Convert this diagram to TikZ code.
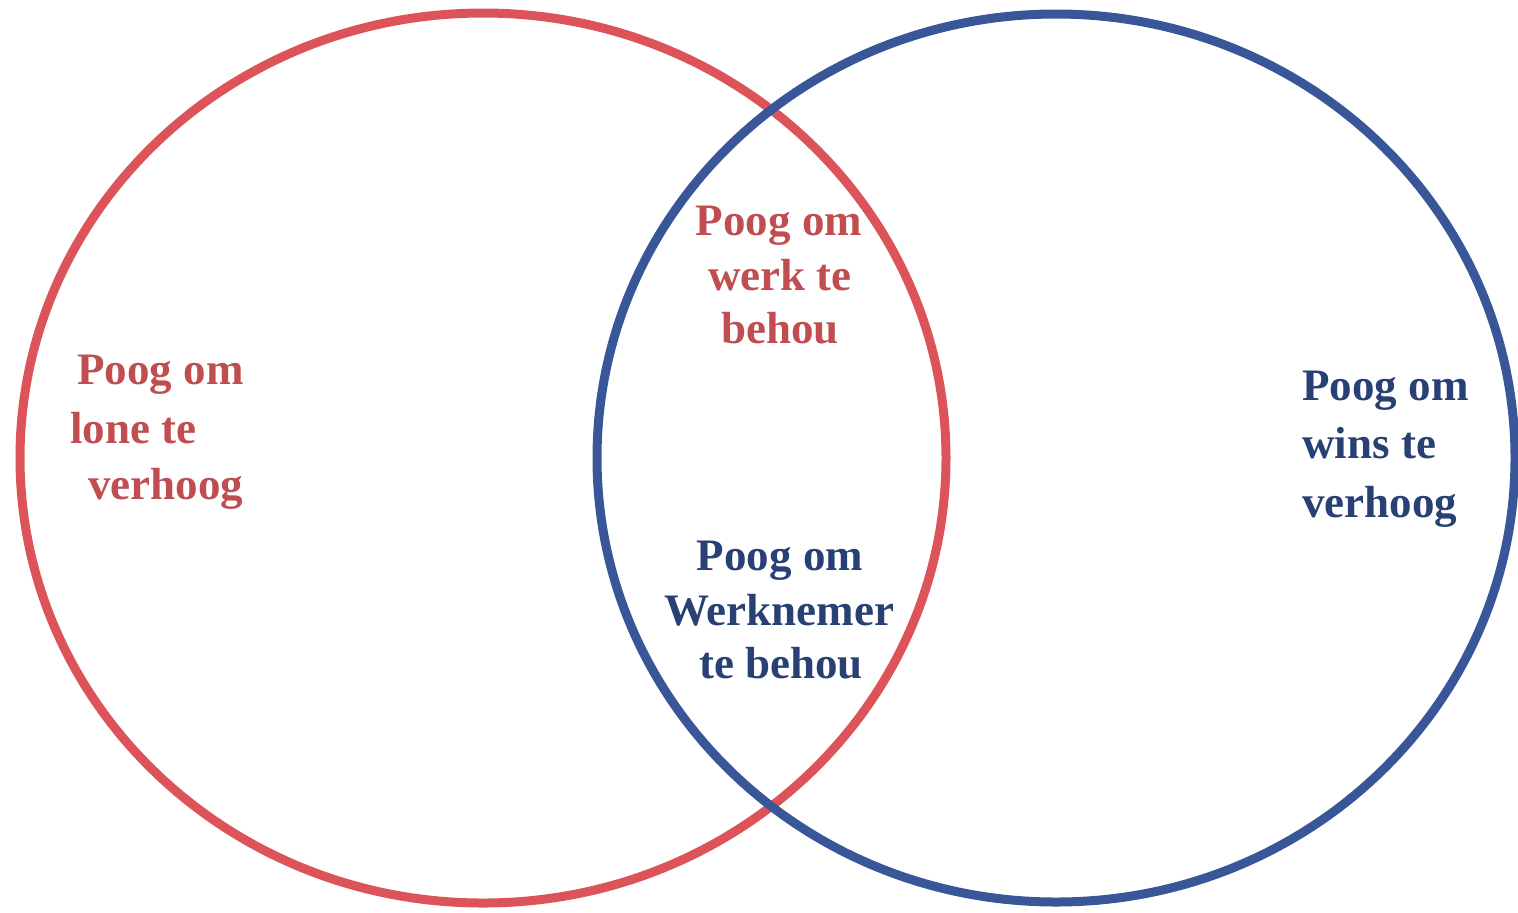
\documentclass[tikz,border=0pt]{standalone}
\usepackage{fontspec}
\setmainfont{Liberation Serif}
\definecolor{redline}{RGB}{220,84,90}
\definecolor{blueline}{RGB}{56,86,152}
\definecolor{redtext}{RGB}{192,78,80}
\definecolor{bluetext}{RGB}{40,64,116}
\begin{document}
\begin{tikzpicture}[x=0.5pt,y=-0.5pt,
  lbl/.style={inner sep=0pt,font=\fontsize{22.5}{28}\selectfont\bfseries},
  rlbl/.style={lbl,text=redtext},
  blbl/.style={lbl,text=bluetext},
  ring/.style={line width=4.5pt}]
\useasboundingbox (0,0) rectangle (1518,912);
\draw[ring,redline] (483,458) ellipse [x radius=463*0.5pt, y radius=445*0.5pt];
\draw[ring,blueline] (1056,458) ellipse [x radius=459*0.5pt, y radius=444*0.5pt];
% left
\node[rlbl,anchor=base west] (l1) at (77,384) {Poog om};
\node[rlbl,anchor=base west] (l2) at (70,443) {lone te};
\node[rlbl,anchor=base west] (l3) at (88,499) {verhoog};
% right
\node[blbl,anchor=base west] (r1) at (1302,400) {Poog om};
\node[blbl,anchor=base west] (r2) at (1302,458) {wins te};
\node[blbl,anchor=base west] (r3) at (1302,517) {verhoog};
% middle top
\node[rlbl,anchor=base] (t1) at (779,235) {Poog om};
\node[rlbl,anchor=base] (t2) at (780,290) {werk te};
\node[rlbl,anchor=base] (t3) at (780,343) {behou};
% middle bottom
\node[blbl,anchor=base] (b1) at (780,570) {Poog om};
\node[blbl,anchor=base] (b2) at (779,625) {Werknemer};
\node[blbl,anchor=base] (b3) at (781,678) {te behou};
\end{tikzpicture}
\end{document}
